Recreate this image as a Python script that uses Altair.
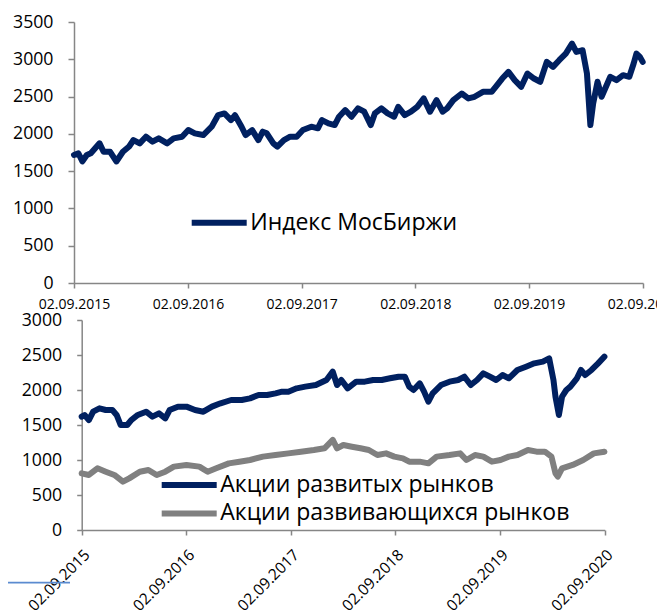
import altair as alt
import pandas as pd

START = "2015-09-02"
YEAR_TICKS = ["2015-09-02", "2016-09-02", "2017-09-02", "2018-09-02", "2019-09-02", "2020-09-02"]
TOP_Y_TICKS = [0, 500, 1000, 1500, 2000, 2500, 3000, 3500]
BOTTOM_Y_TICKS = [0, 500, 1000, 1500, 2000, 2500, 3000]

MOEX = "Индекс МосБиржи"
DEV = "Акции развитых рынков"
EM = "Акции развивающихся рынков"

# days since 02.09.2015
moex_days = [0, 14, 27, 41, 54, 82, 95, 116, 136, 157, 177, 191, 211, 231, 252, 272, 299, 320,
             347, 367, 388, 415, 442, 463, 483, 504, 517, 538, 551, 572, 592, 606, 619, 640,
             653, 674, 694, 715, 735, 762, 783, 796, 817, 837, 851, 871, 891, 912, 932, 953,
             966, 987, 1007, 1028, 1041, 1062, 1082, 1102, 1123, 1143, 1164, 1184, 1198, 1218,
             1245, 1266, 1286, 1313, 1341, 1354, 1375, 1395, 1415, 1436, 1456, 1477, 1497, 1518,
             1538, 1558, 1579, 1599, 1613, 1633, 1647, 1658, 1667, 1681, 1694, 1708, 1722, 1742,
             1763, 1783, 1797, 1806, 1817, 1826]
moex_values = [1717, 1740, 1630, 1717, 1740, 1873, 1760, 1760, 1630, 1760, 1830, 1917, 1873, 1962,
               1895, 1940, 1873, 1940, 1962, 2051, 2007, 1984, 2096, 2252, 2274, 2185, 2250, 2096,
               1984, 2051, 1917, 2029, 2007, 1873, 1828, 1917, 1962, 1962, 2051, 2096, 2074, 2185,
               2140, 2118, 2230, 2319, 2230, 2341, 2297, 2118, 2274, 2341, 2274, 2230, 2363, 2252,
               2297, 2363, 2475, 2297, 2452, 2297, 2341, 2452, 2541, 2475, 2497, 2564, 2564, 2631,
               2742, 2831, 2720, 2631, 2809, 2742, 2698, 2965, 2898, 2988, 3077, 3210, 3099, 3121,
               2809, 2118, 2408, 2698, 2497, 2631, 2765, 2720, 2787, 2765, 2943, 3077, 3032, 2965]

dev_days = [0, 10, 25, 40, 62, 84, 107, 122, 136, 159, 173, 196, 225, 247, 270, 292, 307, 336,
            366, 396, 425, 455, 485, 522, 559, 588, 618, 648, 677, 700, 722, 751, 781, 818, 855,
            877, 892, 907, 929, 959, 989, 1018, 1048, 1077, 1107, 1129, 1144, 1159, 1181, 1196,
            1211, 1226, 1255, 1285, 1315, 1337, 1359, 1381, 1403, 1426, 1448, 1470, 1492, 1522,
            1552, 1581, 1611, 1633, 1648, 1655, 1667, 1678, 1693, 1707, 1730, 1744, 1759, 1781,
            1804, 1826]
dev_values = [1619, 1643, 1571, 1690, 1738, 1714, 1714, 1643, 1500, 1500, 1571, 1643, 1690, 1619,
              1667, 1595, 1714, 1762, 1762, 1714, 1690, 1762, 1810, 1857, 1857, 1881, 1928, 1928,
              1952, 1976, 1976, 2024, 2048, 2071, 2143, 2262, 2071, 2143, 2024, 2119, 2119, 2143,
              2143, 2167, 2190, 2190, 2048, 2000, 2095, 1976, 1833, 1952, 2071, 2119, 2143, 2190,
              2071, 2143, 2238, 2190, 2143, 2214, 2167, 2286, 2333, 2381, 2405, 2452, 2143, 1905,
              1643, 1905, 2000, 2048, 2167, 2286, 2214, 2286, 2381, 2476]

em_days = [0, 25, 55, 84, 114, 144, 166, 203, 233, 262, 292, 322, 366, 411, 440, 470, 514, 551,
           588, 633, 677, 722, 766, 811, 848, 877, 892, 914, 944, 974, 1003, 1033, 1063, 1092,
           1122, 1144, 1181, 1211, 1240, 1285, 1322, 1344, 1374, 1403, 1433, 1463, 1492, 1522,
           1559, 1589, 1618, 1641, 1655, 1663, 1678, 1715, 1752, 1789, 1826]
em_values = [810, 786, 881, 833, 786, 690, 738, 833, 857, 786, 833, 905, 929, 905, 833, 881, 952,
             976, 1000, 1048, 1071, 1095, 1119, 1143, 1167, 1286, 1167, 1214, 1190, 1167, 1143,
             1071, 1095, 1048, 1024, 976, 976, 952, 1048, 1071, 1095, 1000, 1071, 1048, 976, 1000,
             1048, 1071, 1143, 1119, 1119, 1048, 810, 762, 881, 929, 1000, 1095, 1119]


def frame(days, values, name):
    dates = pd.Timestamp(START) + pd.to_timedelta(days, unit="D")
    return pd.DataFrame({"date": dates.strftime("%Y-%m-%d"), "value": values, "series": name})


def dt(s):
    return alt.DateTime(year=int(s[:4]), month=int(s[5:7]), date=int(s[8:10]), utc=True)


ticks = [dt(s) for s in YEAR_TICKS]
NAVY = "#002060"
GRAY = "#808080"

top_df = frame(moex_days, moex_values, MOEX)
bottom_df = pd.concat([frame(dev_days, dev_values, DEV), frame(em_days, em_values, EM)],
                      ignore_index=True)

# horizontal line symbol, 55 px long at symbolSize 400 (path is scaled by sqrt(size)/2)
LINE_SYMBOL = "M-2.75,0H2.75"
legend_common = dict(orient="none", title=None, symbolType=LINE_SYMBOL, symbolSize=400,
                     symbolStrokeWidth=6, labelFontSize=23, labelOffset=18, labelLimit=600,
                     labelColor="#000000", labelFont="Open Sans", rowPadding=3.4)

top = alt.Chart(top_df).mark_line(strokeWidth=6, strokeJoin="round", strokeCap="round").encode(
    x=alt.X("date:T", title=None,
            scale=alt.Scale(type="utc", domain=[ticks[0], ticks[-1]]),
            axis=alt.Axis(values=ticks, format="%d.%m.%Y", labelAngle=0, labelFontSize=14,
                          labelPadding=9, tickSize=5, labelOverlap=False, labelFlush=False,
                          labelBound=False)),
    y=alt.Y("value:Q", title=None, scale=alt.Scale(domain=[0, 3500]),
            axis=alt.Axis(values=TOP_Y_TICKS, format="d", labelFontSize=17.7, labelPadding=15,
                          tickSize=6)),
    color=alt.Color("series:N", scale=alt.Scale(domain=[MOEX], range=[NAVY]),
                    legend=alt.Legend(legendX=132.2, legendY=187.7, **legend_common)),
).properties(width=569, height=261)

lines = alt.Chart(bottom_df).mark_line(strokeWidth=6, strokeJoin="round", strokeCap="round").encode(
    x=alt.X("date:T", title=None,
            scale=alt.Scale(type="utc", domain=[ticks[0], ticks[-1]], range=[7.7, 530.7]),
            axis=alt.Axis(values=ticks, format="%d.%m.%Y", labelAngle=-45, labelFontSize=15.5,
                          labelPadding=12, tickSize=5, labelOverlap=False, labelFlush=False,
                          labelBound=False)),
    y=alt.Y("value:Q", title=None, scale=alt.Scale(domain=[0, 3000]),
            axis=alt.Axis(values=BOTTOM_Y_TICKS, format="d", labelFontSize=17.7, labelPadding=15,
                          tickSize=5, offset=-7.7)),
    color=alt.Color("series:N", sort=[DEV, EM], scale=alt.Scale(domain=[DEV, EM], range=[NAVY, GRAY]),
                    legend=alt.Legend(legendX=102.2, legendY=152, **legend_common)),
    order=alt.Order("series:N", sort="descending"),
)

accent = alt.Chart(pd.DataFrame({"k": [0]})).mark_rule(color="#5b8bd0", strokeWidth=1.7).encode(
    x=alt.value(-66), x2=alt.value(-4), y=alt.value(262.7)
)

bottom = alt.layer(lines, accent).properties(width=530.7, height=210)

chart = alt.vconcat(top, bottom, spacing=37, bounds="flush").resolve_scale(
    x="independent", y="independent", color="independent"
).resolve_legend(color="independent").properties(
    autosize=alt.AutoSizeParams(type="none"),
    padding={"left": 66, "top": 14, "right": 583, "bottom": 590},
).configure(font="Open Sans").configure_view(stroke=None).configure_axis(
    grid=False, domainColor="#868686", tickColor="#868686", domainWidth=1.5, tickWidth=1.5,
    labelColor="#000000", labelFont="Open Sans"
)

chart.save("out.html", embed_options={"renderer": "svg", "actions": False})
